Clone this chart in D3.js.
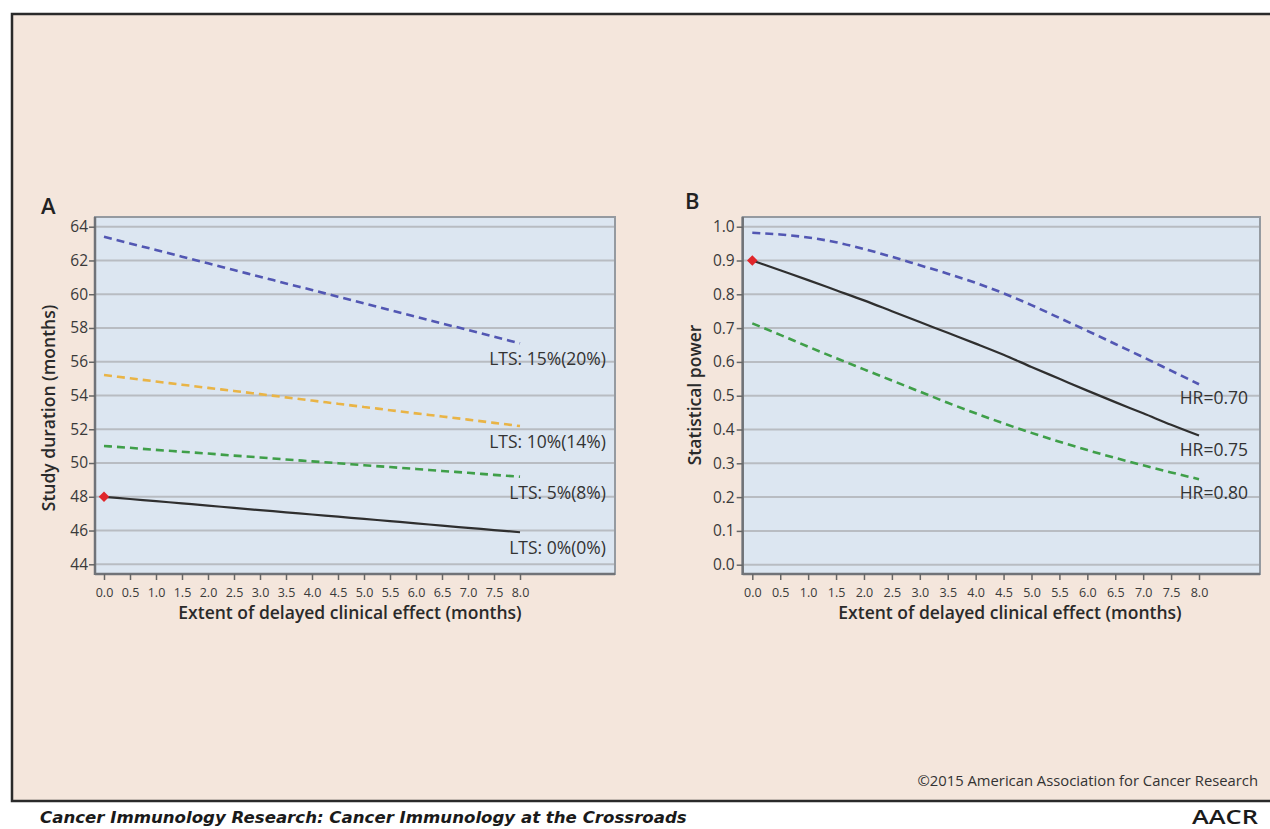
<!DOCTYPE html>
<html>
<head>
<meta charset="utf-8">
<script src="https://cdn.jsdelivr.net/npm/d3@7"></script>
<style>
  body { margin: 0; background: #fff; }
  svg { display: block; font-family: "Open Sans", sans-serif; }
</style>
</head>
<body>
<div id="chart"></div>
<script>
// x values (months of delayed effect), shared by both panels
const delay = [0, 0.5, 1, 1.5, 2, 2.5, 3, 3.5, 4, 4.5, 5, 5.5, 6, 6.5, 7, 7.5, 8];

const durationTicks = [44, 46, 48, 50, 52, 54, 56, 58, 60, 62, 64];
const powerTicks = [0, 0.1, 0.2, 0.3, 0.4, 0.5, 0.6, 0.7, 0.8, 0.9, 1.0];

// panel A: study duration (months)
const lts15 = [63.41, 63.01, 62.62, 62.22, 61.83, 61.43, 61.04, 60.64, 60.25, 59.85, 59.46, 59.06, 58.67, 58.27, 57.88, 57.48, 57.09];
const lts10 = [55.21, 55.02, 54.83, 54.64, 54.45, 54.27, 54.08, 53.89, 53.70, 53.51, 53.32, 53.13, 52.94, 52.76, 52.57, 52.38, 52.19];
const lts5 = [51.01, 50.90, 50.78, 50.67, 50.56, 50.44, 50.33, 50.21, 50.10, 49.99, 49.87, 49.76, 49.65, 49.53, 49.42, 49.30, 49.19];
const lts0 = [48.00, 47.87, 47.74, 47.61, 47.48, 47.34, 47.21, 47.08, 46.95, 46.82, 46.69, 46.56, 46.43, 46.29, 46.16, 46.03, 45.90];
const ltsLabels = ["LTS: 15%(20%)", "LTS: 10%(14%)", "LTS: 5%(8%)", "LTS: 0%(0%)"];

// panel B: statistical power
const hr70 = [0.982, 0.977, 0.968, 0.954, 0.934, 0.911, 0.886, 0.861, 0.834, 0.803, 0.768, 0.730, 0.692, 0.653, 0.614, 0.574, 0.534];
const hr75 = [0.900, 0.871, 0.842, 0.812, 0.782, 0.750, 0.718, 0.686, 0.654, 0.621, 0.585, 0.550, 0.515, 0.481, 0.448, 0.414, 0.382];
const hr80 = [0.714, 0.680, 0.645, 0.611, 0.578, 0.545, 0.512, 0.479, 0.448, 0.418, 0.390, 0.364, 0.339, 0.316, 0.294, 0.273, 0.253];
const hrLabels = ["HR=0.70", "HR=0.75", "HR=0.80"];

const W = 1270, H = 829;
const blue = "#5257b3", orange = "#e9b446", green = "#3f9f49", black = "#2f2f2f";

const svg = d3.select("#chart").append("svg")
  .attr("width", W)
  .attr("height", H);

// page frame
svg.append("rect").attr("width", W).attr("height", H).attr("fill", "#fff");
svg.append("rect")
  .attr("x", 12).attr("y", 14)
  .attr("width", W + 20).attr("height", 787)
  .attr("fill", "#f4e6dc")
  .attr("stroke", "#2a2a2a")
  .attr("stroke-width", 2.5);

const drawPanel = (p) => {
  const g = svg.append("g");
  const x = d3.scaleLinear().domain([0, 8]).range([p.x0, p.x8]);
  const y = d3.scaleLinear().domain(p.yDomain).range(p.yRange);

  g.append("rect")
    .attr("x", p.left).attr("y", p.top)
    .attr("width", p.right - p.left).attr("height", p.bottom - p.top)
    .attr("fill", "#dce6f1")
    .attr("stroke", "#959aa0")
    .attr("stroke-width", 2);

  // horizontal grid
  g.selectAll(".grid")
    .data(p.ticks)
    .join("line")
    .attr("class", "grid")
    .attr("x1", p.left + 1).attr("x2", p.right - 1)
    .attr("y1", (d) => y(d)).attr("y2", (d) => y(d))
    .attr("stroke", "#b8bcc2")
    .attr("stroke-width", 2);

  // darker left / bottom edges
  g.append("line")
    .attr("x1", p.left).attr("x2", p.left)
    .attr("y1", p.top).attr("y2", p.bottom + 1)
    .attr("stroke", "#707378").attr("stroke-width", 2.5);
  g.append("line")
    .attr("x1", p.left).attr("x2", p.right)
    .attr("y1", p.bottom).attr("y2", p.bottom)
    .attr("stroke", "#707378").attr("stroke-width", 2.5);

  // y axis
  const ya = g.append("g")
    .attr("transform", `translate(${p.left},0)`)
    .call(d3.axisLeft(y).tickValues(p.ticks).tickSize(6).tickPadding(p.yPad).tickFormat(p.yFormat));
  ya.select(".domain").remove();
  ya.selectAll("line").attr("stroke", "#666").attr("stroke-width", 1.5);
  ya.selectAll("text")
    .attr("fill", "#3a3a3a")
    .style("font-size", "15.5px")
    .style("font-family", "Open Sans");

  // x axis
  const xa = g.append("g")
    .attr("transform", `translate(0,${p.bottom})`)
    .call(d3.axisBottom(x).tickValues(delay).tickSize(6).tickFormat(d3.format(".1f")));
  xa.select(".domain").remove();
  xa.selectAll("line").attr("stroke", "#666").attr("stroke-width", 1.5);
  xa.selectAll("text")
    .attr("y", 22.5).attr("dy", null)
    .attr("fill", "#3a3a3a")
    .style("font-size", "12.5px")
    .style("font-family", "Open Sans");

  // axis titles
  g.append("text")
    .attr("x", p.xTitleX).attr("y", 619)
    .attr("text-anchor", "middle")
    .attr("fill", "#2a2a2a")
    .style("font-size", "17.5px")
    .style("font-weight", 600)
    .text("Extent of delayed clinical effect (months)");

  g.append("text")
    .attr("transform", `translate(${p.yTitleX},${p.yTitleY}) rotate(-90)`)
    .attr("text-anchor", "middle")
    .attr("fill", "#2a2a2a")
    .style("font-size", "17.5px")
    .style("font-weight", 600)
    .text(p.yTitle);

  // panel letter
  g.append("text")
    .attr("x", p.letterX).attr("y", p.letterY)
    .attr("fill", "#222")
    .style("font-size", "22px")
    .style("font-weight", 600)
    .text(p.letter);

  const line = d3.line()
    .x((d, i) => x(delay[i]))
    .y((d) => y(d))
    .curve(d3.curveMonotoneX);

  g.selectAll(".series")
    .data(p.series)
    .join("path")
    .attr("class", "series")
    .attr("fill", "none")
    .attr("stroke", (s) => s.color)
    .attr("stroke-width", (s) => (s.dash ? 2.6 : 2.2))
    .attr("stroke-dasharray", (s) => s.dash)
    .attr("d", (s) => line(s.values));

  g.selectAll(".end-label")
    .data(p.series)
    .join("text")
    .attr("class", "end-label")
    .attr("x", p.right - p.labelInset)
    .attr("y", (s) => y(s.values[s.values.length - 1]) + p.labelDrop)
    .attr("text-anchor", "end")
    .attr("fill", "#333")
    .style("font-size", "17.5px")
    .text((s) => s.label);

  // red diamond at the reference point
  g.append("path")
    .attr("d", d3.symbol(d3.symbolSquare, 56)())
    .attr("transform", `translate(${x(0)},${y(p.marker)}) rotate(45)`)
    .attr("fill", "#e0262b");
};

drawPanel({
  letter: "A", letterX: 41, letterY: 214,
  left: 95, right: 615, top: 217, bottom: 574,
  x0: 104, x8: 520,
  yDomain: [44, 64], yRange: [564.3, 226.7],
  ticks: durationTicks, yFormat: d3.format("d"), yPad: 1,
  yTitle: "Study duration (months)", yTitleX: 55, yTitleY: 408,
  xTitleX: 350,
  labelInset: 9, labelDrop: 22,
  marker: 48,
  series: [
    { label: ltsLabels[0], values: lts15, color: blue, dash: "8,5" },
    { label: ltsLabels[1], values: lts10, color: orange, dash: "8,5" },
    { label: ltsLabels[2], values: lts5, color: green, dash: "8,5" },
    { label: ltsLabels[3], values: lts0, color: black, dash: null },
  ],
});

drawPanel({
  letter: "B", letterX: 685, letterY: 209,
  left: 742.7, right: 1260, top: 217, bottom: 574,
  x0: 752.3, x8: 1199,
  yDomain: [0, 1], yRange: [564.7, 226.7],
  ticks: powerTicks, yFormat: d3.format(".1f"), yPad: 2,
  yTitle: "Statistical power", yTitleX: 701, yTitleY: 395,
  xTitleX: 1010,
  labelInset: 12, labelDrop: 20,
  marker: 0.9,
  series: [
    { label: hrLabels[0], values: hr70, color: blue, dash: "8,5" },
    { label: hrLabels[1], values: hr75, color: black, dash: null },
    { label: hrLabels[2], values: hr80, color: green, dash: "8,5" },
  ],
});

// credits and footer
svg.append("text")
  .attr("x", 1258).attr("y", 786)
  .attr("text-anchor", "end")
  .attr("fill", "#333")
  .style("font-size", "14.8px")
  .text("©2015 American Association for Cancer Research");

svg.append("text")
  .attr("x", 40).attr("y", 823)
  .attr("fill", "#1a1a1a")
  .style("font-family", "DejaVu Sans")
  .style("font-size", "16.6px")
  .style("font-weight", 700)
  .style("font-style", "italic")
  .text("Cancer Immunology Research: Cancer Immunology at the Crossroads");

svg.append("text")
  .attr("x", 1192).attr("y", 824)
  .attr("fill", "#1a1a1a")
  .attr("textLength", 66)
  .attr("lengthAdjust", "spacingAndGlyphs")
  .style("font-size", "19px")
  .style("font-weight", 600)
  .text("AACR");
</script>
</body>
</html>
